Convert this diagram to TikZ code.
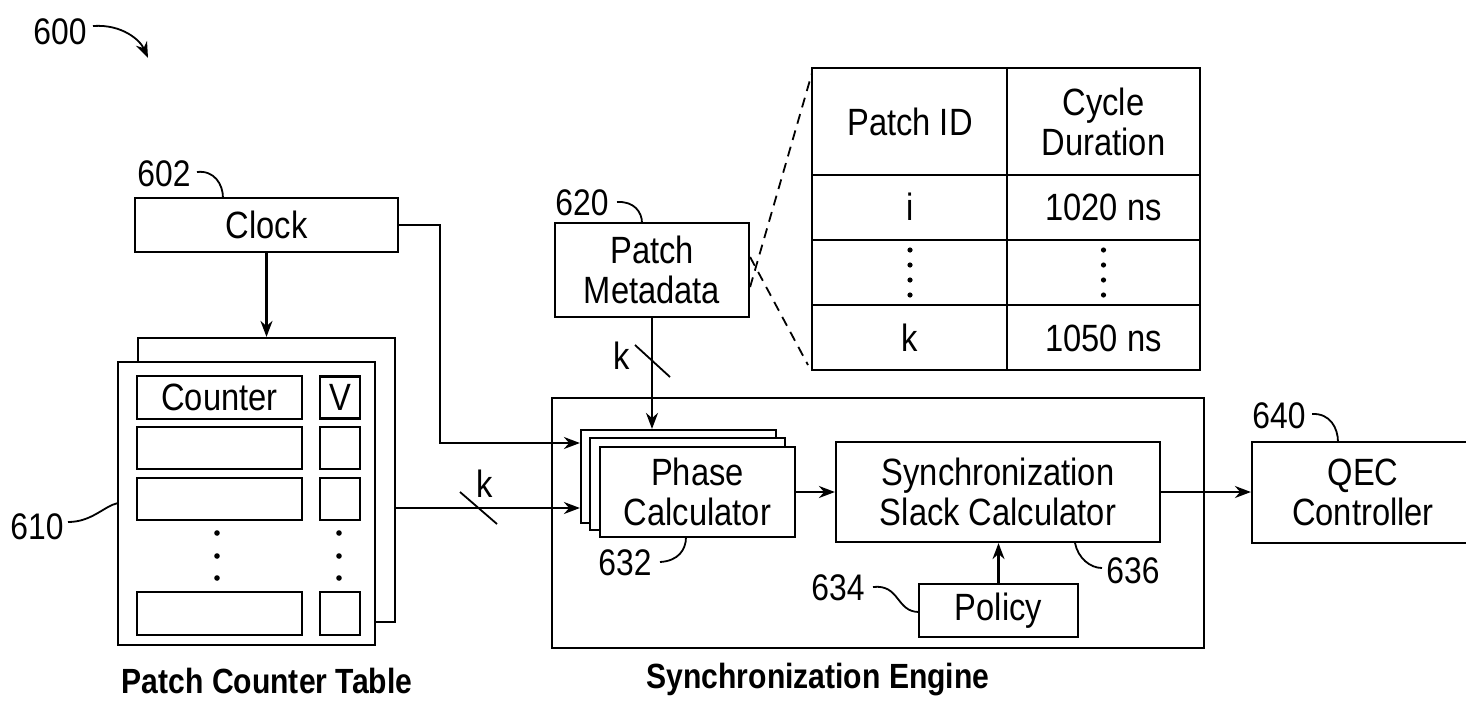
\documentclass[tikz,border=0pt]{standalone}
\usepackage{fontspec}
\setmainfont{Liberation Sans}[FakeStretch=0.86]
\usetikzlibrary{arrows.meta}
\newcommand\mainsz{\fontsize{19}{20}\selectfont}
\newcommand\lblsz{\fontsize{18.5}{19}\selectfont}
\newcommand\capsz{\fontsize{17.5}{18}\selectfont\bfseries}
\begin{document}
\begin{tikzpicture}[x=0.5pt,y=-0.5pt,line width=1.1pt,
  box/.style={draw,fill=white,inner sep=0pt,align=center,font=\mainsz},
  panel/.style={draw,fill=white,inner sep=0pt},
  arr/.style={-{Stealth[length=8pt,width=6pt]}},
  leader/.style={line width=0.9pt},
  lbl/.style={inner sep=0pt,font=\lblsz},
  txt/.style={inner sep=0pt,align=center,font=\mainsz},
  zoomline/.style={line width=0.9pt,dash pattern=on 5pt off 3.5pt}]
\useasboundingbox (0,0) rectangle (1466,707);
\clip (0,0) rectangle (1466,707);

% figure reference
\node[lbl] (lbl600) at (60,32) {600};
\draw[arr,leader] (93,26) .. controls (122,24) and (140,40) .. (148,58);

% clock
\node[box,minimum width=131.5pt,minimum height=27pt] (clock) at (266.5,225) {Clock};
\node[lbl] (lbl602) at (164,174) {602};
\draw[leader] (197,172) .. controls (214,170) and (223,184) .. (223,198);

% patch counter table (stacked frames)
\node[panel,minimum width=128.5pt,minimum height=142pt] (pctback) at (266.5,480) {};
\node[panel,minimum width=128.5pt,minimum height=141.5pt] (pct) at (246.5,503.5) {};
\node[box,minimum width=82.5pt,minimum height=21.5pt] (c1) at (219.5,397.5) {Counter};
\node[box,minimum width=82.5pt,minimum height=21pt] (c2) at (219.5,448) {};
\node[box,minimum width=82.5pt,minimum height=21pt] (c3) at (219.5,499) {};
\node[box,minimum width=82.5pt,minimum height=21.5pt] (c4) at (219.5,613.5) {};
\node[box,minimum width=20pt,minimum height=21pt] (v1) at (340,397.5) {V};
\node[box,minimum width=20pt,minimum height=21pt] (v2) at (340,448) {};
\node[box,minimum width=20pt,minimum height=21pt] (v3) at (340,499) {};
\node[box,minimum width=20pt,minimum height=21.5pt] (v4) at (340,613.5) {};
\foreach \y in {533,556,578} {
  \fill (217,\y) circle (2.8);
  \fill (339,\y) circle (2.8);
}
\node[lbl] (lbl610) at (37,527) {610};
\draw[leader] (68,522) .. controls (92,522) and (104,506) .. (118,503);
\node[font=\capsz,inner sep=0pt] (cappct) at (267,681) {Patch Counter Table};

% patch metadata
\node[box,minimum width=97pt,minimum height=47pt] (meta) at (652,270) {Patch\\Metadata};
\node[lbl] (lbl620) at (582,203) {620};
\draw[leader] (617,202) .. controls (634,201) and (642,212) .. (642,223);

% metadata table
\coordinate (ttl) at (812,68);
\coordinate (tbl) at (812,370);
\draw (812,68) rectangle (1200,370);
\draw (1007,68) -- (1007,370);
\draw (812,175) -- (1200,175);
\draw (812,240) -- (1200,240);
\draw (812,305) -- (1200,305);
\node[txt] (hid) at (910,122) {Patch ID};
\node[txt] (hcyc) at (1103.5,122) {Cycle\\Duration};
\node[txt] (ri) at (910,207) {i};
\node[txt] (rid) at (1103.5,207) {1020 ns};
\node[txt] (rk) at (910,338) {k};
\node[txt] (rkd) at (1103.5,338) {1050 ns};
\foreach \y in {250,265,280,295} {
  \fill (910,\y) circle (2.6);
  \fill (1103.5,\y) circle (2.6);
}
\draw[zoomline] ([yshift=-8.5pt]meta.east) -- ([yshift=-2.5pt]ttl);
\draw[zoomline] ([yshift=6.5pt]meta.east) -- ([xshift=-2pt,yshift=2.5pt]tbl);

% synchronization engine
\node[panel,minimum width=326pt,minimum height=125pt] (se) at (878,523) {};
\node[panel,minimum width=97.5pt,minimum height=46.5pt] (pc3) at (678.5,476.5) {};
\node[panel,minimum width=97.5pt,minimum height=46pt] (pc2) at (687.5,484) {};
\node[box,minimum width=97.5pt,minimum height=45pt] (pc) at (697.5,492) {Phase\\Calculator};
\node[lbl] (lbl632) at (625,563) {632};
\draw[leader] (660,562) .. controls (678,561) and (686,550) .. (686,537);
\node[box,minimum width=162pt,minimum height=50pt] (slack) at (998,492) {Synchronization\\Slack Calculator};
\node[lbl] (lbl636) at (1133,571) {636};
\draw[leader] (1075,543) .. controls (1078,558) and (1090,568) .. (1102,568);
\node[box,minimum width=79.5pt,minimum height=26.5pt] (policy) at (998.5,610.5) {Policy};
\node[lbl] (lbl634) at (838,588) {634};
\draw[leader] (873,587) .. controls (900,584) and (896,612) .. (919,612);
\node[font=\capsz,inner sep=0pt] (capse) at (818,680) {Synchronization Engine};

% QEC controller
\node[box,minimum width=111pt,minimum height=50.5pt] (qec) at (1363,492.5) {QEC\\Controller};
\node[lbl] (lbl640) at (1279,416) {640};
\draw[leader] (1312,414) .. controls (1330,413) and (1338,428) .. (1338,442);

% connectors
\draw[arr] (clock.south) -- (pctback.north);
\draw[arr] (clock.east) -| (440,443) -- (pc3.west |- 0,443);
\draw[arr] (pctback.east |- 0,508) -- (pc3.west |- 0,508);
\draw[leader] (460,492) -- (497,524);
\node[txt] (k1) at (485,484) {k};
\draw[arr] (meta.south) -- (meta.south |- pc3.north);
\draw[leader] (635,345) -- (670,377);
\node[txt] (k2) at (622,356) {k};
\draw[arr] (pc.east) -- (slack.west);
\draw[arr] (policy.north) -- (policy.north |- slack.south);
\draw[arr] (slack.east) -- (slack.east -| qec.west);
\end{tikzpicture}
\end{document}
